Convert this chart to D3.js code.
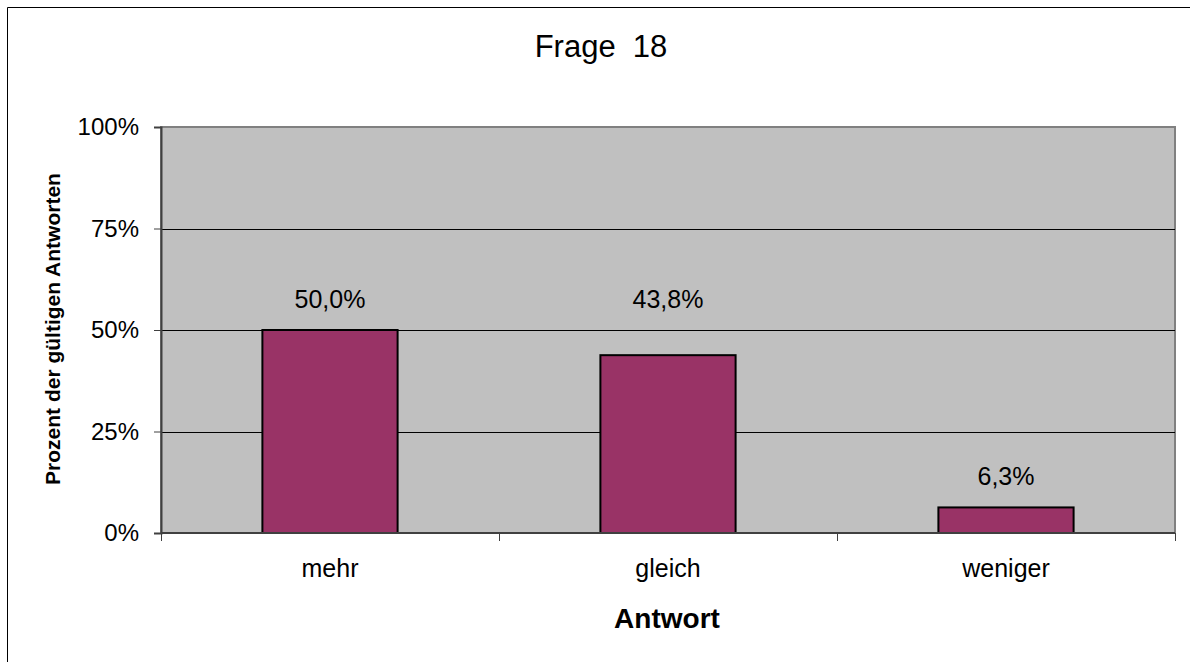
<!DOCTYPE html>
<html lang="de">
<head>
    <meta charset="UTF-8">
    <script src="https://d3js.org/d3.v7.min.js"></script>
    <style>
        body {
            margin: 0;
            padding: 0;
            background-color: #ffffff;
            font-family: 'Liberation Sans', Arial, sans-serif;
            overflow: hidden;
        }
        svg {
            display: block;
        }
    </style>
</head>
<body>
    <svg id="chart" width="1190" height="662"></svg>

    <script>
        // Data for the chart
        const categories = ["mehr", "gleich", "weniger"];
        const values = [50.0, 43.8, 6.3];
        const valueLabels = ["50,0%", "43,8%", "6,3%"];
        const yTicks = [0, 25, 50, 75, 100];

        const margin = { top: 127, right: 15, bottom: 129, left: 161 };
        const width = 1190 - margin.left - margin.right;
        const height = 662 - margin.top - margin.bottom;

        const root = d3.select("#chart");

        // outer chart frame (only left and top edges are visible in the window)
        root.append("path")
            .attr("d", "M7.5,662V7.5H1190")
            .attr("fill", "none")
            .attr("stroke", "#000000")
            .attr("stroke-width", 1);

        const svg = root.append("g")
            .attr("transform", `translate(${margin.left},${margin.top})`);

        const x = d3.scaleBand()
            .domain(categories)
            .range([0, width])
            .paddingInner(0.6)
            .paddingOuter(0.3);

        const y = d3.scaleLinear()
            .domain([0, 100])
            .range([height, 0]);

        // plot background
        svg.append("rect")
            .attr("width", width)
            .attr("height", height)
            .attr("fill", "#c0c0c0")
            .attr("stroke", "#808080")
            .attr("stroke-width", 2);

        // gridlines
        const gridVals = yTicks.filter(d => d > 0 && d < 100);
        svg.selectAll(".grid")
            .data(gridVals)
            .enter()
            .append("line")
            .attr("x1", 0)
            .attr("x2", width)
            .attr("y1", d => Math.round(y(d)) + 0.5)
            .attr("y2", d => Math.round(y(d)) + 0.5)
            .attr("stroke", "#000000")
            .attr("stroke-width", 1);

        // bars
        svg.selectAll(".bar")
            .data(values)
            .enter()
            .append("rect")
            .attr("x", (d, i) => x(categories[i]))
            .attr("y", d => y(d))
            .attr("width", x.bandwidth())
            .attr("height", d => height - y(d))
            .attr("fill", "#993366")
            .attr("stroke", "#000000")
            .attr("stroke-width", 2);

        // value labels, nudged above a gridline when they would sit on it
        const labelGap = 22;
        function labelY(v) {
            let base = y(v) - labelGap;
            gridVals.forEach(g => {
                const gy = y(g);
                if (gy > base - 20 && gy < base + 6) base = gy - labelGap;
            });
            return base;
        }
        svg.selectAll(".value")
            .data(values)
            .enter()
            .append("text")
            .attr("x", (d, i) => x(categories[i]) + x.bandwidth() / 2)
            .attr("y", d => labelY(d))
            .attr("text-anchor", "middle")
            .attr("font-size", "25px")
            .attr("fill", "#000000")
            .text((d, i) => valueLabels[i]);

        // y axis
        const yAxis = d3.axisLeft(y)
            .tickValues(yTicks)
            .tickSize(7)
            .tickPadding(15)
            .tickFormat(d => d + "%");

        const yg = svg.append("g").call(yAxis);
        yg.select(".domain").attr("stroke", "#404040").attr("stroke-width", 2);
        yg.selectAll(".tick line").attr("stroke", "#404040");
        yg.selectAll(".tick text")
            .attr("font-size", "24px")
            .attr("font-family", "'Liberation Sans', Arial, sans-serif")
            .attr("fill", "#000000");

        // x axis with ticks between categories
        const xg = svg.append("g")
            .attr("transform", `translate(0,${height})`);
        xg.append("line")
            .attr("x1", 0)
            .attr("x2", width)
            .attr("y1", 0)
            .attr("y2", 0)
            .attr("stroke", "#404040")
            .attr("stroke-width", 2);
        const step = x.step();
        xg.selectAll(".xtick")
            .data(d3.range(categories.length + 1))
            .enter()
            .append("line")
            .attr("x1", i => Math.round(x(categories[0]) - step * 0.3 + i * step) + 0.5)
            .attr("x2", i => Math.round(x(categories[0]) - step * 0.3 + i * step) + 0.5)
            .attr("y1", 0)
            .attr("y2", 8)
            .attr("stroke", "#404040");
        xg.selectAll(".xlabel")
            .data(categories)
            .enter()
            .append("text")
            .attr("x", d => x(d) + x.bandwidth() / 2)
            .attr("y", 44)
            .attr("text-anchor", "middle")
            .attr("font-size", "25px")
            .attr("fill", "#000000")
            .text(d => d);

        // title
        root.append("text")
            .attr("x", 601)
            .attr("y", 57)
            .attr("text-anchor", "middle")
            .attr("font-size", "31px")
            .attr("fill", "#000000")
            .style("white-space", "pre")
            .text("Frage  18");

        // x axis title
        root.append("text")
            .attr("x", 667)
            .attr("y", 628)
            .attr("text-anchor", "middle")
            .attr("font-size", "28px")
            .attr("font-weight", "bold")
            .attr("fill", "#000000")
            .text("Antwort");

        // y axis title
        root.append("text")
            .attr("transform", "translate(60,329) rotate(-90)")
            .attr("text-anchor", "middle")
            .attr("font-size", "21px")
            .attr("font-weight", "bold")
            .attr("fill", "#000000")
            .text("Prozent der gültigen Antworten");
    </script>
</body>
</html>
